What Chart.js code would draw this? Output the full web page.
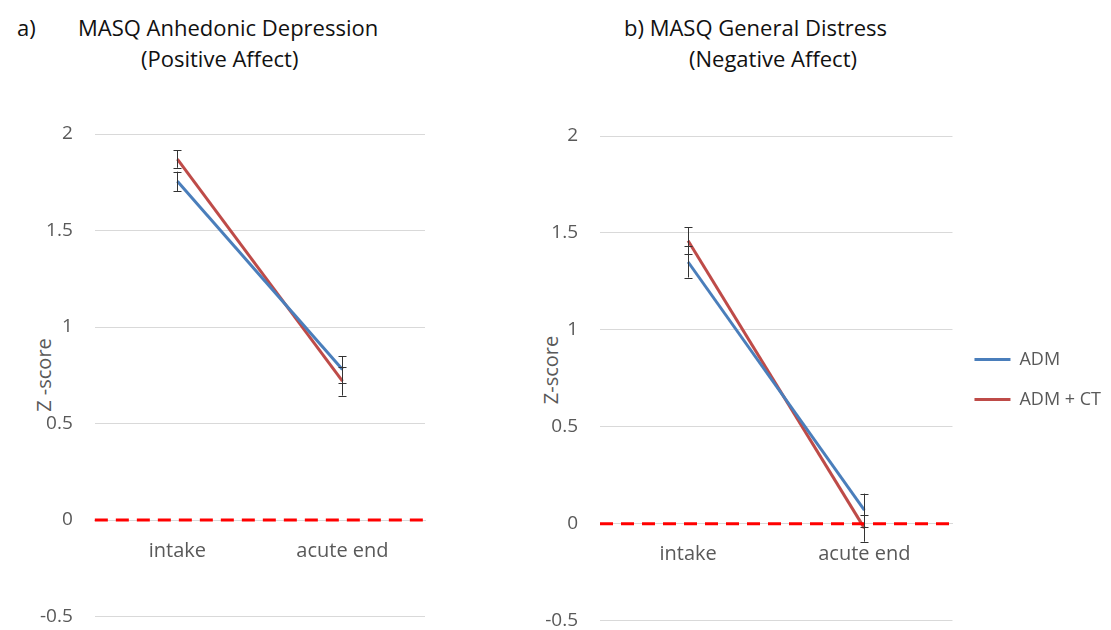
<!DOCTYPE html>
<html>
<head>
<meta charset="utf-8">
<script src="https://cdn.jsdelivr.net/npm/chart.js@4/dist/chart.umd.min.js"></script>
<style>
    body { margin: 0; background: #fff; width: 1111px; height: 630px; overflow: hidden; position: relative; font-family: "Open Sans", sans-serif; }
    .panel { position: absolute; top: 0; }
    .title { position: absolute; font-size: 22px; line-height: 30px; color: #111; white-space: nowrap; }
    .ylab { position: absolute; width: 100px; height: 26px; line-height: 26px; text-align: center; font-size: 20px; color: #595959; transform: rotate(-90deg); transform-origin: center; white-space: nowrap; }
</style>
</head>
<body>
<div class="title" style="left:17px; top:12px;">a)</div>
<div class="title" style="left:78px; top:12px;">MASQ Anhedonic Depression</div>
<div class="title" style="left:141px; top:43px;">(Positive Affect)</div>
<div class="title" style="left:624px; top:12px;">b) MASQ General Distress</div>
<div class="title" style="left:689px; top:43px;">(Negative Affect)</div>
<div class="ylab" style="left:-6px; top:362px;">Z -score</div>
<div class="ylab" style="left:501px; top:357px;">Z-score</div>

<div class="panel" style="left:0; width:445px; height:650px;"><canvas id="chartA"></canvas></div>
<div class="panel" style="left:440px; width:671px; height:654px;"><canvas id="chartB"></canvas></div>

<script>
// categories and values
const categories = ['intake', 'acute end'];
const seriesNames = ['ADM', 'ADM + CT'];

const admA = [1.755, 0.78];
const admCtA = [1.87, 0.72];
const admErrA = [0.05, 0.07];
const admCtErrA = [0.045, 0.075];

const admB = [1.35, 0.07];
const admCtB = [1.46, -0.023];
const admErrB = [0.08, 0.085];
const admCtErrB = [0.07, 0.07];

const zeroLine = 0;
const yTicks = [-0.5, 0, 0.5, 1, 1.5, 2];

const blue = '#4A7EBB';
const red = '#BE4B48';
const grey = '#595959';

// draws error bars and the red dashed zero line
const extrasPlugin = {
    id: 'extras',
    afterDatasetsDraw(chart, args, opts) {
        const ctx = chart.ctx;
        const x = chart.scales.x, y = chart.scales.y;
        const area = chart.chartArea;

        ctx.save();
        ctx.strokeStyle = '#ff0000';
        ctx.lineWidth = 3;
        ctx.setLineDash([13, 8]);
        const y0 = y.getPixelForValue(zeroLine);
        ctx.beginPath();
        ctx.moveTo(area.left, y0);
        ctx.lineTo(area.right, y0);
        ctx.stroke();
        ctx.restore();

        ctx.save();
        ctx.strokeStyle = '#333';
        ctx.lineWidth = 1;
        chart.data.datasets.forEach((ds, i) => {
            const errs = opts.errors[i];
            ds.data.forEach((v, j) => {
                const px = Math.round(x.getPixelForValue(j)) + 0.5;
                const top = y.getPixelForValue(v + errs[j]);
                const bot = y.getPixelForValue(v - errs[j]);
                ctx.beginPath();
                ctx.moveTo(px, top); ctx.lineTo(px, bot);
                ctx.moveTo(px - 4, Math.round(top) + 0.5); ctx.lineTo(px + 4, Math.round(top) + 0.5);
                ctx.moveTo(px - 4, Math.round(bot) + 0.5); ctx.lineTo(px + 4, Math.round(bot) + 0.5);
                ctx.stroke();
            });
        });
        ctx.restore();
    }
};

function makeChart(id, adm, admCt, errs, showLegend, padding, topGap, yWidth) {
    return new Chart(document.getElementById(id), {
        type: 'line',
        data: {
            labels: categories,
            datasets: [
                { label: seriesNames[0], data: adm, borderColor: blue, backgroundColor: blue, borderWidth: 3, pointRadius: 0 },
                { label: seriesNames[1], data: admCt, borderColor: red, backgroundColor: red, borderWidth: 3, pointRadius: 0 }
            ]
        },
        options: {
            responsive: true,
            maintainAspectRatio: false,
            animation: false,
            layout: { padding: padding },
            plugins: {
                tooltip: { enabled: false },
                extras: { errors: errs },
                legend: {
                    display: showLegend,
                    position: 'right',
                    labels: {
                        boxWidth: 36,
                        boxHeight: 3,
                        color: grey,
                        font: { family: 'Open Sans', size: 18 },
                        padding: 22,
                        generateLabels: chart => Chart.defaults.plugins.legend.labels.generateLabels(chart)
                            .map(item => Object.assign(item, { lineWidth: 0, fillStyle: item.strokeStyle }))
                    }
                }
            },
            scales: {
                x: {
                    position: { y: 0 },
                    offset: true,
                    grid: { display: false },
                    border: { display: true, color: '#d9d9d9' },
                    ticks: { color: grey, font: { family: 'Open Sans', size: 20 }, padding: 11 }
                },
                // empty top band so the legend centres lower than the plot top
                xTop: {
                    type: 'category',
                    position: 'top',
                    display: topGap > 0,
                    grid: { display: false },
                    border: { display: false },
                    ticks: { display: false },
                    afterFit: axis => { axis.height = topGap; }
                },
                y: {
                    min: -0.5,
                    max: 2,
                    afterBuildTicks: axis => { axis.ticks = yTicks.map(v => ({ value: v })); },
                    afterFit: axis => { if (yWidth) axis.width = yWidth; },
                    grid: { color: '#d9d9d9', drawTicks: false },
                    border: { display: false },
                    ticks: { color: grey, font: { family: 'Open Sans', size: 19 }, padding: 22, callback: v => String(v) }
                }
            }
        },
        plugins: [extrasPlugin]
    });
}

// make sure text is measured with the real font
Promise.all([
    document.fonts.load('18px "Open Sans"'),
    document.fonts.load('20px "Open Sans"')
]).catch(() => {}).then(() => {
    makeChart('chartA', admA, admCtA, [admErrA, admCtErrA], false, { top: 134, bottom: 5, left: 18, right: 20 }, 0, 0);
    makeChart('chartB', admB, admCtB, [admErrB, admCtErrB], true, { top: 106, bottom: 1, left: 0, right: 0 }, 30, 160);
});
</script>
</body>
</html>
